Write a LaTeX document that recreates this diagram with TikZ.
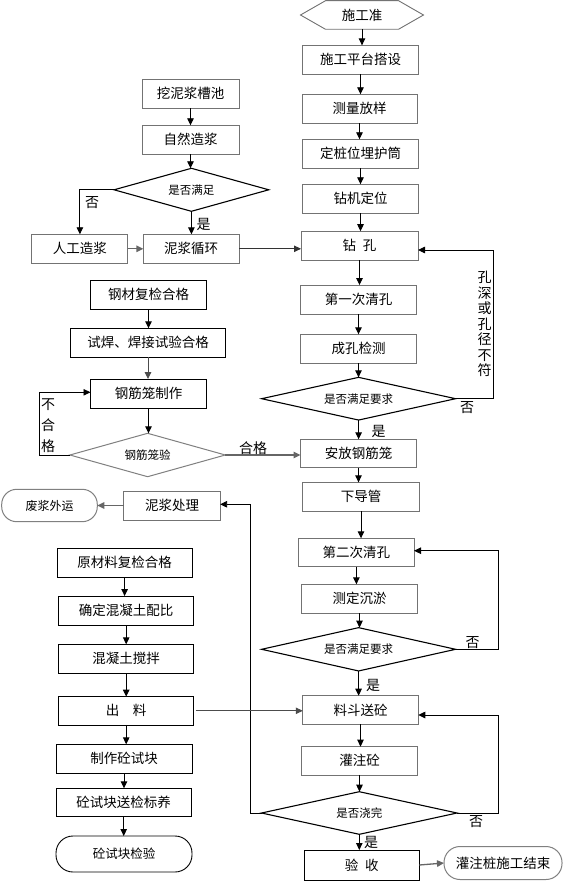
\documentclass[tikz,border=0pt]{standalone}
\usepackage{fontspec}
\setmainfont{Noto Sans CJK SC}
\usetikzlibrary{arrows.meta,calc}
\tikzset{
  every node/.style={inner sep=0pt, outer sep=0pt, font=\fontsize{13.5}{15}\selectfont},
  gbox/.style={draw=black!55, line width=0.9pt, rectangle},
  kbox/.style={draw=black, line width=0.9pt, rectangle},
  dia/.style={rectangle, font=\fontsize{11.5}{12}\selectfont},
  dline/.style={draw=black, line width=1.1pt},
  gdline/.style={draw=black!50, line width=1pt},
  rnd/.style={draw=black!50, line width=1pt, rectangle, rounded corners=15pt},
  arr/.style={-{Triangle[length=7pt,width=6.5pt]}, line width=0.9pt, black},
  garr/.style={-{Triangle[length=7pt,width=6.5pt]}, line width=1.3pt, black!60},
  ln/.style={line width=0.9pt, black},
  lbl/.style={font=\fontsize{14}{15}\selectfont}
}
\begin{document}
\begin{tikzpicture}[x=1pt,y=-1pt]
\path[use as bounding box, fill=white] (0,0) rectangle (565,882);

% ---------- right column ----------
\node[minimum width=123, minimum height=28.6] (s) at (362,15) {施工准};
\draw[black!55, line width=0.9pt] (s.west) -- ($(s.north west)+(25,0)$) -- ($(s.north east)+(-25,0)$) -- (s.east) -- ($(s.south east)+(-25,0)$) -- ($(s.south west)+(25,0)$) -- cycle;
\node[gbox, minimum width=115.5, minimum height=28.7] (p1) at (360.5,59.7) {施工平台搭设};
\node[gbox, minimum width=115, minimum height=29] (p2) at (359.5,108.8) {测量放样};
\node[gbox, minimum width=115.5, minimum height=29] (p3) at (360.5,153.8) {定桩位埋护筒};
\node[gbox, minimum width=115.5, minimum height=29] (p4) at (360.5,198.8) {钻机定位};
\node[gbox, minimum width=117, minimum height=29] (p5) at (359.5,245.7) {钻\hspace{0.5em}孔};
\node[gbox, minimum width=116, minimum height=29.3] (p6) at (358.5,299.7) {第一次清孔};
\node[gbox, minimum width=116, minimum height=29] (p7) at (358.5,348.8) {成孔检测};
\node[dia, minimum width=194, minimum height=42.7] (d1) at (358.6,398.7) {是否满足要求};
\draw[dline] (d1.north) -- (d1.east) -- (d1.south) -- (d1.west) -- cycle;
\node[gbox, minimum width=116, minimum height=28.4] (p8) at (358.5,453.5) {安放钢筋笼};
\node[gbox, minimum width=116.6, minimum height=28.7] (p9) at (361,496.7) {下导管};
\node[gbox, minimum width=115.2, minimum height=28.4] (p10) at (356.4,552.5) {第二次清孔};
\node[gbox, minimum width=115.5, minimum height=29] (p11) at (359.5,598.8) {测定沉淤};
\node[dia, minimum width=194, minimum height=43.3] (d2) at (358.6,649.3) {是否满足要求};
\draw[dline] (d2.north) -- (d2.east) -- (d2.south) -- (d2.west) -- cycle;
\node[gbox, minimum width=115.5, minimum height=28.6] (p12) at (360.5,710) {料斗送砼};
\node[gbox, minimum width=115.5, minimum height=28.3] (p13) at (359.5,760.8) {灌注砼};
\node[dia, minimum width=195.5, minimum height=42.6] (d3) at (359.3,813) {是否浇完};
\draw[dline] (d3.north) -- (d3.east) -- (d3.south) -- (d3.west) -- cycle;
\node[kbox, minimum width=115.2, minimum height=30] (p14) at (361.8,865) {验\hspace{0.5em}收};
\node[rnd, rounded corners=16pt, minimum width=118, minimum height=33] (e) at (503,863) {灌注桩施工结束};

\draw[arr] (s.south) -- (s.south |- p1.north);
\draw[arr] (p1.south) -- (p1.south |- p2.north);
\draw[arr] (p2.south) -- (p2.south |- p3.north);
\draw[arr] (p3.south) -- (p3.south |- p4.north);
\draw[arr] (p4.south) -- (p4.south |- p5.north);
\draw[arr] (p5.south) -- (p5.south |- p6.north);
\draw[arr] (p6.south) -- (p6.south |- p7.north);
\draw[arr] (p7.south) -- (p7.south |- d1.north);
\draw[arr] (d1.south) -- (d1.south |- p8.north);
\draw[arr] (p8.south) -- (p8.south |- p9.north);
\draw[arr] (p9.south) -- (p9.south |- p10.north);
\draw[arr] (p10.south) -- (p10.south |- p11.north);
\draw[arr] (p11.south) -- (p11.south |- d2.north);
\draw[arr] (d2.south) -- (d2.south |- p12.north);
\draw[arr] (p12.south) -- (p12.south |- p13.north);
\draw[arr] (p13.south) -- (p13.south |- d3.north);
\draw[arr] (d3.south) -- (d3.south |- p14.north);
\draw[garr] (p14.east) -- (e.west);

% loops on the right
\coordinate (k1) at (493.3,250);
\draw[ln] (d1.east) -| (k1);
\draw[arr] (k1) -- (k1 -| p5.east);
\coordinate (k2) at (498.7,550.7);
\draw[ln] (d2.east) -| (k2);
\draw[arr] (k2) -- (k2 -| p10.east);
\coordinate (k3) at (498.7,715);
\draw[ln] (d3.east) -| (k3);
\draw[arr] (k3) -- (k3 -| p12.east);

\node[align=center, font=\fontsize{14}{15.5}\selectfont] (kt) at (484.6,324) {孔\\深\\或\\孔\\径\\不\\符};
\node[lbl] (n1) at (467,408) {否};
\node[lbl] (y1) at (378.5,431) {是};
\node[lbl] (n2) at (472.6,643) {否};
\node[lbl] (y2) at (373,685) {是};
\node[lbl] (n3) at (476,821.7) {否};
\node[lbl] (y3) at (371,842) {是};

% ---------- left top ----------
\node[gbox, minimum width=97, minimum height=29] (q1) at (190.5,93.8) {挖泥浆槽池};
\node[gbox, minimum width=97, minimum height=29] (q2) at (190.5,139.8) {自然造浆};
\node[dia, minimum width=154.7, minimum height=43] (dq) at (191.4,189.8) {是否满足};
\draw[dline] (dq.north) -- (dq.east) -- (dq.south) -- (dq.west) -- cycle;
\node[gbox, minimum width=96, minimum height=29] (q3) at (79.9,248.8) {人工造浆};
\node[gbox, minimum width=95.6, minimum height=29] (q4) at (191.2,248.8) {泥浆循环};
\draw[arr] (q1.south) -- (q1.south |- q2.north);
\draw[arr] (q2.south) -- (q2.south |- dq.north);
\draw[arr] (dq.west) -| (q3.north);
\draw[arr, line width=1.3pt] (dq.south) -- (dq.south |- q4.north);
\draw[garr] (q3.east) -- (q4.west);
\draw[arr, black!80] (q4.east) -- (q4.east -| p5.west);
\node[lbl] (nq) at (92,203) {否};
\node[lbl] (yq) at (203.5,224) {是};

% ---------- left middle ----------
\node[kbox, minimum width=116, minimum height=29.3] (r1) at (148.5,294.7) {钢材复检合格};
\node[kbox, minimum width=154.7, minimum height=29] (r2) at (148,342.8) {试焊、焊接试验合格};
\node[kbox, minimum width=116, minimum height=29.3] (r3) at (148.5,393.7) {钢筋笼制作};
\node[dia, minimum width=155.4, minimum height=43.4] (dr) at (147.6,455) {钢筋笼验};
\draw[gdline] (dr.north) -- (dr.east) -- (dr.south) -- (dr.west) -- cycle;
\draw[arr] (r1.south) -- (r1.south |- r2.north);
\draw[arr, black!70] (r2.south) -- (r2.south |- r3.north);
\draw[arr] (r3.south) -- (r3.south |- dr.north);
\coordinate (k4) at (39.1,392.3);
\draw[ln] (dr.west) -| (k4);
\draw[arr] (k4) -- (k4 -| r3.west);
\node[align=center, font=\fontsize{14}{21}\selectfont] (bh) at (48,426) {不\\合\\格};
\draw[garr] (dr.east) -- (dr.east -| p8.west);
\node[lbl] (hg) at (253,448) {合格};

\node[gbox, minimum width=96.3, minimum height=29] (s1) at (172,505.5) {泥浆处理};
\node[rnd, minimum width=95.6, minimum height=32.4, font=\fontsize{12}{13}\selectfont] (s0) at (49.5,505.5) {废浆外运};
\draw[garr] (s1.west) -- (s0.east);
\coordinate (k5) at (250.6,504.3);
\draw[ln] (d3.west) -| (k5);
\draw[arr] (k5) -- (k5 -| s1.east);

% ---------- left bottom ----------
\node[kbox, minimum width=134.8, minimum height=29] (t1) at (124.6,562.8) {原材料复检合格};
\node[kbox, minimum width=135, minimum height=29.3] (t2) at (126.2,610.7) {确定混凝土配比};
\node[kbox, minimum width=135, minimum height=29] (t3) at (126.2,658.8) {混凝土搅拌};
\node[kbox, minimum width=135, minimum height=28.3] (t4) at (126.2,710.8) {出\hspace{1em}料};
\node[kbox, minimum width=136, minimum height=29] (t5) at (124,758.8) {制作砼试块};
\node[kbox, minimum width=135, minimum height=28.4] (t6) at (123.7,802.5) {砼试块送检标养};
\node[draw=black, line width=0.9pt, rounded corners=17pt, minimum width=136, minimum height=36, font=\fontsize{12.5}{13}\selectfont] (t7) at (124,854) {砼试块检验};
\draw[arr] (t1.south) -- (t1.south |- t2.north);
\draw[arr] (t2.south) -- (t2.south |- t3.north);
\draw[arr] (t3.south) -- (t3.south |- t4.north);
\draw[arr] (t4.south) -- (t4.south |- t5.north);
\draw[arr] (t5.south) -- (t5.south |- t6.north);
\draw[arr] (t6.south) -- (t6.south |- t7.north);
\draw[arr, black!70] ($(t4.east)+(2,0)$) -- (t4.east -| p12.west);
\end{tikzpicture}
\end{document}
